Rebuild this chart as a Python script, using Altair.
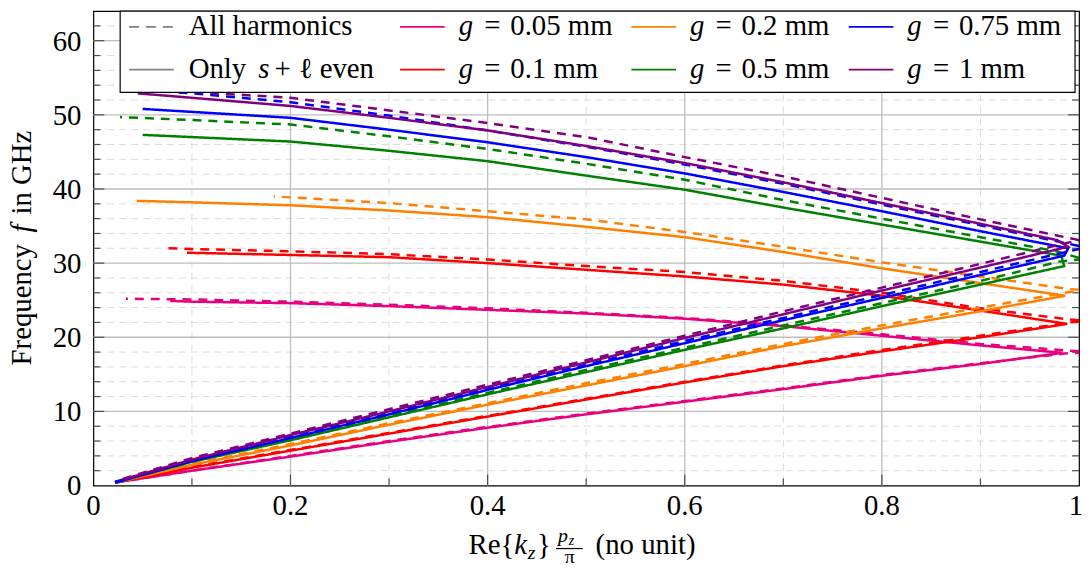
import altair as alt
import pandas as pd

# ---------------- data ----------------
G_LABELS = ["0.05", "0.1", "0.2", "0.5", "0.75", "1"]
G_COLORS = ["#e8007f", "#ff0000", "#ff8000", "#008000", "#0000ff", "#800080"]
KINDS = ["All harmonics", "Only s+l even"]

PINK_ONLY_X = [0.022, 0.1, 0.2, 0.3, 0.4, 0.5, 0.6, 0.7, 0.8, 0.9, 0.983, 0.9, 0.8, 0.7, 0.6, 0.5, 0.4, 0.3, 0.2, 0.1, 0.078]
PINK_ONLY_F = [0.4, 2.0, 3.9, 5.9, 7.8, 9.6, 11.3, 13.0, 14.8, 16.4, 17.9, 18.9, 20.2, 21.5, 22.5, 23.2, 23.7, 24.2, 24.6, 24.8, 24.9]
PINK_ALL_LO_X = [0.022, 0.1, 0.2, 0.3, 0.4, 0.5, 0.6, 0.7, 0.8, 0.9, 0.985, 1.0]
PINK_ALL_LO_F = [0.4, 2.0, 4.0, 6.0, 7.9, 9.7, 11.4, 13.1, 14.9, 16.5, 17.8, 17.9]
PINK_ALL_HI_X = [1.0, 0.9, 0.8, 0.7, 0.6, 0.5, 0.4, 0.3, 0.2, 0.1, 0.033]
PINK_ALL_HI_F = [18.1, 19.1, 20.4, 21.6, 22.6, 23.3, 23.9, 24.4, 24.8, 25.1, 25.2]

RED_ONLY_X = [0.022, 0.1, 0.2, 0.3, 0.4, 0.5, 0.6, 0.7, 0.8, 0.9, 0.988, 0.9, 0.8, 0.7, 0.6, 0.5, 0.4, 0.3, 0.2, 0.095]
RED_ONLY_F = [0.4, 2.4, 4.7, 7.0, 9.3, 11.6, 13.9, 16.1, 18.1, 20.0, 21.8, 23.6, 25.6, 27.1, 28.2, 29.1, 30.0, 30.8, 31.1, 31.4]
RED_ALL_LO_X = [0.022, 0.1, 0.2, 0.3, 0.4, 0.5, 0.6, 0.7, 0.8, 0.9, 0.99, 1.0]
RED_ALL_LO_F = [0.4, 2.5, 4.8, 7.1, 9.4, 11.7, 14.0, 16.2, 18.3, 20.2, 22.0, 22.1]
RED_ALL_HI_X = [1.0, 0.99, 0.9, 0.8, 0.7, 0.6, 0.5, 0.4, 0.3, 0.2, 0.1, 0.075]
RED_ALL_HI_F = [22.3, 22.4, 23.9, 26.0, 27.6, 28.8, 29.6, 30.5, 31.2, 31.6, 31.9, 32.0]

ORANGE_ONLY_X = [0.022, 0.1, 0.2, 0.3, 0.4, 0.5, 0.6, 0.7, 0.8, 0.9, 0.986, 0.9, 0.8, 0.7, 0.6, 0.5, 0.4, 0.3, 0.2, 0.1, 0.044]
ORANGE_ONLY_F = [0.4, 2.8, 5.4, 8.2, 10.9, 13.5, 16.1, 18.8, 21.2, 23.5, 25.6, 27.3, 29.3, 31.5, 33.5, 34.9, 36.2, 37.1, 37.8, 38.2, 38.4]
ORANGE_ALL_LO_X = [0.022, 0.1, 0.2, 0.3, 0.4, 0.5, 0.6, 0.7, 0.8, 0.9, 0.99, 1.0]
ORANGE_ALL_LO_F = [0.4, 2.9, 5.6, 8.4, 11.1, 13.8, 16.4, 19.1, 21.6, 24.0, 26.1, 26.2]
ORANGE_ALL_HI_X = [1.0, 0.99, 0.9, 0.8, 0.7, 0.6, 0.5, 0.4, 0.3, 0.183]
ORANGE_ALL_HI_F = [26.4, 26.5, 28.2, 30.1, 32.2, 34.2, 35.9, 37.0, 38.1, 39.0]

GREEN_ONLY_X = [0.022, 0.1, 0.2, 0.3, 0.4, 0.5, 0.6, 0.7, 0.8, 0.9, 0.985, 0.982, 0.9, 0.8, 0.7, 0.6, 0.5, 0.4, 0.3, 0.2, 0.1, 0.05]
GREEN_ONLY_F = [0.4, 3.2, 6.1, 9.2, 12.3, 15.3, 18.3, 21.2, 24.2, 27.1, 29.6, 31.0, 32.9, 35.2, 37.5, 39.9, 41.8, 43.75, 45.15, 46.4, 47.0, 47.3]
GREEN_ALL_LO_X = [0.022, 0.1, 0.2, 0.3, 0.4, 0.5, 0.6, 0.7, 0.8, 0.9, 0.98, 1.0]
GREEN_ALL_LO_F = [0.4, 3.3, 6.3, 9.4, 12.5, 15.6, 18.6, 21.6, 24.6, 27.6, 30.2, 30.5]
GREEN_ALL_HI_X = [1.0, 0.977, 0.9, 0.8, 0.7, 0.6, 0.5, 0.4, 0.3, 0.2, 0.1, 0.027]
GREEN_ALL_HI_F = [30.7, 31.6, 33.5, 36.0, 38.5, 41.25, 43.4, 45.4, 47.1, 48.7, 49.3, 49.7]

BLUE_ONLY_X = [0.022, 0.1, 0.2, 0.3, 0.4, 0.5, 0.6, 0.7, 0.8, 0.9, 0.985, 0.989, 0.9, 0.8, 0.7, 0.6, 0.5, 0.4, 0.3, 0.2, 0.1, 0.05]
BLUE_ONLY_F = [0.4, 3.3, 6.4, 9.6, 12.9, 16.1, 19.2, 22.3, 25.3, 28.4, 31.0, 32.0, 34.3, 37.0, 39.6, 42.1, 44.3, 46.3, 48.0, 49.6, 50.4, 50.8]
BLUE_ALL_LO_X = [0.022, 0.1, 0.2, 0.3, 0.4, 0.5, 0.6, 0.7, 0.8, 0.9, 0.99, 1.0]
BLUE_ALL_LO_F = [0.5, 3.4, 6.6, 9.8, 13.1, 16.3, 19.5, 22.6, 25.7, 28.8, 31.6, 31.9]
BLUE_ALL_HI_X = [1.0, 0.99, 0.9, 0.8, 0.7, 0.6, 0.5, 0.4, 0.3, 0.2, 0.1, 0.04]
BLUE_ALL_HI_F = [32.3, 32.6, 35.1, 37.9, 40.7, 43.3, 45.7, 47.9, 49.9, 51.7, 52.9, 53.4]

PURPLE_ONLY_X = [0.03, 0.1, 0.2, 0.3, 0.4, 0.5, 0.6, 0.7, 0.8, 0.9, 0.989, 0.978, 0.9, 0.8, 0.7, 0.6, 0.5, 0.4, 0.3, 0.2, 0.1, 0.045]
PURPLE_ONLY_F = [0.8, 3.5, 6.8, 10.0, 13.3, 16.6, 19.9, 23.1, 26.3, 29.4, 32.2, 33.1, 35.3, 38.1, 40.9, 43.5, 45.8, 47.9, 49.6, 51.2, 52.3, 52.9]
PURPLE_ALL_LO_X = [0.03, 0.1, 0.2, 0.3, 0.4, 0.5, 0.6, 0.7, 0.8, 0.9, 0.99, 1.0]
PURPLE_ALL_LO_F = [0.9, 3.7, 7.0, 10.3, 13.6, 16.9, 20.2, 23.5, 26.7, 29.9, 32.8, 33.0]
PURPLE_ALL_HI_X = [1.0, 0.9, 0.8, 0.7, 0.6, 0.5, 0.4, 0.3, 0.2, 0.1, 0.035]
PURPLE_ALL_HI_F = [33.1, 35.9, 38.8, 41.7, 44.3, 47.0, 48.9, 50.6, 52.3, 53.1, 53.5]

X_MAJOR = [0, 0.2, 0.4, 0.6, 0.8, 1]
X_LABELS = ["0", "0.2", "0.4", "0.6", "0.8", "1"]
X_MINOR = [0.1, 0.3, 0.5, 0.7, 0.9]
Y_MAJOR = [0, 10, 20, 30, 40, 50, 60]
Y_LABELS = ["0", "10", "20", "30", "40", "50", "60"]
Y_MINOR = [2, 4, 6, 8, 12, 14, 16, 18, 22, 24, 26, 28, 32, 34, 36, 38, 42, 44, 46, 48, 52, 54, 56, 58, 62]

# ---------------- build table ----------------
CURVES = [
    ("0.05", KINDS[0], [(PINK_ALL_LO_X, PINK_ALL_LO_F), (PINK_ALL_HI_X, PINK_ALL_HI_F)]),
    ("0.05", KINDS[1], [(PINK_ONLY_X, PINK_ONLY_F)]),
    ("0.1", KINDS[0], [(RED_ALL_LO_X, RED_ALL_LO_F), (RED_ALL_HI_X, RED_ALL_HI_F)]),
    ("0.1", KINDS[1], [(RED_ONLY_X, RED_ONLY_F)]),
    ("0.2", KINDS[0], [(ORANGE_ALL_LO_X, ORANGE_ALL_LO_F), (ORANGE_ALL_HI_X, ORANGE_ALL_HI_F)]),
    ("0.2", KINDS[1], [(ORANGE_ONLY_X, ORANGE_ONLY_F)]),
    ("0.5", KINDS[0], [(GREEN_ALL_LO_X, GREEN_ALL_LO_F), (GREEN_ALL_HI_X, GREEN_ALL_HI_F)]),
    ("0.5", KINDS[1], [(GREEN_ONLY_X, GREEN_ONLY_F)]),
    ("0.75", KINDS[0], [(BLUE_ALL_LO_X, BLUE_ALL_LO_F), (BLUE_ALL_HI_X, BLUE_ALL_HI_F)]),
    ("0.75", KINDS[1], [(BLUE_ONLY_X, BLUE_ONLY_F)]),
    ("1", KINDS[0], [(PURPLE_ALL_LO_X, PURPLE_ALL_LO_F), (PURPLE_ALL_HI_X, PURPLE_ALL_HI_F)]),
    ("1", KINDS[1], [(PURPLE_ONLY_X, PURPLE_ONLY_F)]),
]
rows = []
for g, kind, segs in CURVES:
    for si, (xs, fs) in enumerate(segs):
        for i, (xv, fv) in enumerate(zip(xs, fs)):
            rows.append({"g": g, "kind": kind, "curve": f"{g}|{kind}|{si}", "idx": i, "x": xv, "f": fv})
df = pd.DataFrame(rows)

# ---------------- layout ----------------
W, H = 993, 478
FONT = "Liberation Serif"
FS = 29
TICK = "#4d4d4d"
DASH = [9, 7]

xscale = alt.Scale(domain=[0, 1], nice=False, zero=False)
yscale = alt.Scale(domain=[0, 64], nice=False, zero=False)


def vrules(values, color, width, dash=None):
    kw = dict(color=color, strokeWidth=width)
    if dash:
        kw["strokeDash"] = dash
    return alt.Chart(pd.DataFrame({"v": values})).mark_rule(**kw).encode(
        x=alt.X("v:Q", scale=xscale, axis=None))


def hrules(values, color, width, dash=None):
    kw = dict(color=color, strokeWidth=width)
    if dash:
        kw["strokeDash"] = dash
    return alt.Chart(pd.DataFrame({"v": values})).mark_rule(**kw).encode(
        y=alt.Y("v:Q", scale=yscale, axis=None))


def xticks(values, length, top):
    y0, y1 = (0, length) if top else (H, H - length)
    return alt.Chart(pd.DataFrame({"v": values})).mark_rule(color=TICK, strokeWidth=1.2).encode(
        x=alt.X("v:Q", scale=xscale, axis=None), y=alt.value(y0), y2=alt.value(y1))


def yticks(values, length, right):
    x0, x1 = (W, W - length) if right else (0, length)
    return alt.Chart(pd.DataFrame({"v": values})).mark_rule(color=TICK, strokeWidth=1.2).encode(
        y=alt.Y("v:Q", scale=yscale, axis=None), x=alt.value(x0), x2=alt.value(x1))


layers = [
    vrules(X_MINOR, "#dcdcdc", 1, [7, 5]),
    hrules(Y_MINOR, "#dcdcdc", 1, [7, 5]),
    vrules(X_MAJOR[1:-1], "#bdbdbd", 1.3),
    hrules(Y_MAJOR[1:], "#bdbdbd", 1.3),
]
for top in (False, True):
    layers.append(xticks(X_MINOR, 7, top))
    layers.append(xticks(X_MAJOR[1:-1], 11, top))
for right in (False, True):
    layers.append(yticks(Y_MINOR, 7, right))
    layers.append(yticks(Y_MAJOR[1:], 11, right))

lines = alt.Chart(df).mark_line(strokeWidth=2.5, clip=True).encode(
    x=alt.X("x:Q", scale=xscale, axis=None),
    y=alt.Y("f:Q", scale=yscale, axis=None),
    color=alt.Color("g:N", scale=alt.Scale(domain=G_LABELS, range=G_COLORS), legend=None),
    strokeDash=alt.StrokeDash("kind:N", scale=alt.Scale(domain=KINDS, range=[DASH, [1, 0]]), legend=None),
    detail="curve:N",
    order="idx:Q",
)
layers.append(lines)

# tick labels, positioned through the scales
xlab = alt.Chart(pd.DataFrame({"v": X_MAJOR[:-1], "t": X_LABELS[:-1]})).mark_text(
    font=FONT, fontSize=FS, align="center", baseline="alphabetic", color="black").encode(
    x=alt.X("v:Q", scale=xscale, axis=None), y=alt.value(H + 30), text="t:N")
xlab_last = alt.Chart(pd.DataFrame({"v": X_MAJOR[-1:], "t": X_LABELS[-1:]})).mark_text(
    font=FONT, fontSize=FS, align="center", baseline="alphabetic", dx=-3, color="black").encode(
    x=alt.X("v:Q", scale=xscale, axis=None), y=alt.value(H + 30), text="t:N")
ylab = alt.Chart(pd.DataFrame({"v": Y_MAJOR, "t": Y_LABELS})).mark_text(
    font=FONT, fontSize=FS, align="right", baseline="alphabetic", dy=10, color="black").encode(
    y=alt.Y("v:Q", scale=yscale, axis=None), x=alt.value(-12), text="t:N")
layers += [xlab, xlab_last, ylab]

# ---------------- legend (drawn by hand, inside the plot) ----------------
BOX = (27, 989, 0, 82)
COL_X = [36, 309, 542, 761]
ROW_Y = [16, 59]
ROW_BASE = [24, 67]
SAMPLE_LEN = 45

box = alt.Chart(pd.DataFrame({"a": [0]})).mark_rect(fill="white", stroke="black", strokeWidth=1.2).encode(
    x=alt.value(BOX[0]), x2=alt.value(BOX[1]), y=alt.value(BOX[2]), y2=alt.value(BOX[3]))
layers.append(box)

samp_rows = []
for i, (g, c) in enumerate(zip(G_LABELS, G_COLORS)):
    col, row = 1 + i // 2, i % 2
    samp_rows.append({"x1": COL_X[col], "x2": COL_X[col] + SAMPLE_LEN, "y": ROW_Y[row], "c": c, "d": [1, 0]})
samp_rows.append({"x1": COL_X[0], "x2": COL_X[0] + SAMPLE_LEN, "y": ROW_Y[0], "c": "#808080", "d": [10, 7]})
samp_rows.append({"x1": COL_X[0], "x2": COL_X[0] + SAMPLE_LEN, "y": ROW_Y[1], "c": "#808080", "d": [1, 0]})
samples = alt.Chart(pd.DataFrame(samp_rows)).mark_rule(strokeWidth=1.8).encode(
    x=alt.X("x1:Q", scale=None, axis=None), x2="x2:Q",
    y=alt.Y("y:Q", scale=None, axis=None),
    color=alt.Color("c:N", scale=None),
    strokeDash=alt.StrokeDash("d", scale=None),
)
layers.append(samples)

upright, italic, centered = [], [], []
for i, g in enumerate(G_LABELS):
    col, row = 1 + i // 2, i % 2
    gx = COL_X[col] + 59
    italic.append({"t": "g", "x": gx, "y": ROW_BASE[row], "s": FS})
    centered.append({"t": "=", "x": gx + 34, "y": ROW_BASE[row], "s": FS})
    upright.append({"t": f"{g} mm", "x": gx + 52, "y": ROW_BASE[row], "s": FS})
upright.append({"t": "All harmonics", "x": 96, "y": ROW_BASE[0], "s": FS})
upright.append({"t": "Only", "x": 96, "y": ROW_BASE[1], "s": FS})
italic.append({"t": "s", "x": 166, "y": ROW_BASE[1], "s": FS})
upright.append({"t": "+", "x": 182.5, "y": ROW_BASE[1], "s": FS})
upright.append({"t": "\u2113", "x": 207, "y": ROW_BASE[1], "s": FS})
upright.append({"t": "even", "x": 228, "y": ROW_BASE[1], "s": FS})

# x-axis title: Re{k_z} p_z/pi (no unit)
upright.append({"t": "Re{", "x": 378, "y": 547, "s": FS})
italic.append({"t": "k", "x": 424, "y": 547, "s": FS})
italic.append({"t": "z", "x": 437.5, "y": 552, "s": 20})
upright.append({"t": "}", "x": 447, "y": 547, "s": FS})
italic.append({"t": "p", "x": 468, "y": 535, "s": 20})
italic.append({"t": "z", "x": 479, "y": 537.5, "s": 14})
upright.append({"t": "(no unit)", "x": 506, "y": 547, "s": FS})
centered.append({"t": "\u03c0", "x": 480, "y": 556, "s": 20})


def text_layer(rows_, style, align="left", angle=None):
    kw = dict(font=FONT, align=align, baseline="alphabetic", color="black")
    if style == "italic":
        kw["fontStyle"] = "italic"
    if angle is not None:
        kw["angle"] = angle
    return alt.Chart(pd.DataFrame(rows_)).mark_text(**kw).encode(
        x=alt.X("x:Q", scale=None, axis=None), y=alt.Y("y:Q", scale=None, axis=None),
        text="t:N", size=alt.Size("s:Q", scale=None, legend=None))


layers.append(text_layer(upright, "normal"))
layers.append(text_layer(italic, "italic"))
layers.append(text_layer(centered, "normal", align="center"))
frac = alt.Chart(pd.DataFrame({"a": [0]})).mark_rule(color="black", strokeWidth=1.2).encode(
    x=alt.value(466), x2=alt.value(493), y=alt.value(541.5))
layers.append(frac)

# y-axis title (rotated): Frequency f in GHz
layers.append(text_layer([{"t": "Frequency", "x": -63, "y": 357, "s": FS},
                          {"t": "in GHz", "x": -63, "y": 205, "s": FS}], "normal", angle=270))
layers.append(text_layer([{"t": "f", "x": -63, "y": 223, "s": FS}], "italic", angle=270))

chart = alt.layer(*layers).properties(
    width=W, height=H,
    autosize=alt.AutoSizeParams(type="none"),
    padding={"left": 86, "top": 1, "right": 3, "bottom": 80},
).configure_view(stroke="black", strokeWidth=1.2)

chart.save("out.html", embed_options={"renderer": "svg", "actions": False})
